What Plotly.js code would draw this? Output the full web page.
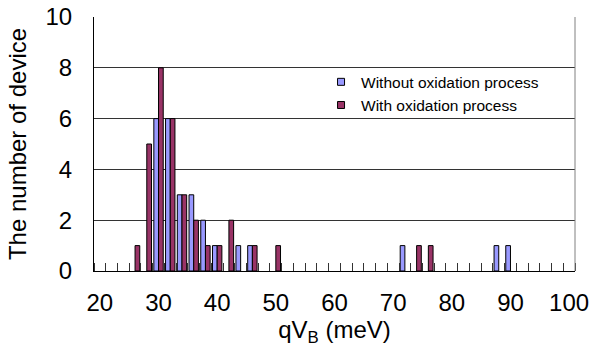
<!DOCTYPE html>
<html>
<head>
<meta charset="utf-8">
<script src="https://cdn.plot.ly/plotly-3.0.1.min.js"></script>
<style>html,body{margin:0;padding:0;background:#fff;}#chart{width:602px;height:352px;}</style>
</head>
<body>
<div id="chart"></div>
<script>
// qV_B bins (meV) and device counts
const binsWithout = [30, 32, 34, 36, 38, 40, 44, 46, 72, 88, 90];
const countsWithout = [6, 6, 3, 3, 2, 1, 1, 1, 1, 1, 1];
const binsWith = [26, 28, 30, 32, 34, 36, 38, 40, 42, 46, 50, 74, 76];
const countsWith = [1, 5, 8, 6, 3, 2, 1, 1, 2, 1, 1, 1, 1];
const xTickLabels = [20, 30, 40, 50, 60, 70, 80, 90, 100];
const yTickLabels = [0, 2, 4, 6, 8, 10];
const seriesNames = ["Without oxidation process", "With oxidation process"];

const FONT = "Arial, 'Liberation Sans', sans-serif";
const blue = "#9999FF", purple = "#993366";

const traces = [
  {type: "bar", x: binsWithout, y: countsWithout, name: seriesNames[0], showlegend: false,
   marker: {color: blue, line: {color: "#000", width: 1}}},
  {type: "bar", x: binsWith, y: countsWith, name: seriesNames[1], showlegend: false,
   marker: {color: purple, line: {color: "#000", width: 1}}},
  {type: "scatter", mode: "markers", x: [null], y: [null], name: seriesNames[0],
   marker: {symbol: "square", size: 7, color: blue, line: {color: "#000", width: 1}}},
  {type: "scatter", mode: "markers", x: [null], y: [null], name: seriesNames[1],
   marker: {symbol: "square", size: 7, color: purple, line: {color: "#000", width: 1}}}
];

const layout = {
  width: 602, height: 352,
  margin: {l: 94, r: 27, t: 17, b: 81},
  paper_bgcolor: "#fff", plot_bgcolor: "#fff",
  font: {family: FONT, color: "#000", size: 24},
  barmode: "group", bargap: 0.2, bargroupgap: 0,
  showlegend: true,
  legend: {x: 0.472, y: 0.81, xanchor: "left", yanchor: "top", font: {size: 15.5, family: FONT},
           bgcolor: "rgba(0,0,0,0)", borderwidth: 0, tracegroupgap: 0},
  xaxis: {
    range: [19, 101], tickmode: "array", tickvals: xTickLabels, ticktext: xTickLabels.map(String),
    ticks: "", showgrid: false, zeroline: false, showline: true, linecolor: "#000", linewidth: 1,
    ticklabelstandoff: 10, tickfont: {size: 24},
    minor: {ticks: "inside", tick0: 19, dtick: 2, ticklen: 8, tickcolor: "#333", tickwidth: 1, showgrid: false},
    title: {text: "qV<sub>B</sub> (meV)", font: {size: 24}, standoff: 6}
  },
  yaxis: {
    range: [0, 10], tickmode: "array", tickvals: yTickLabels, ticks: "",
    showgrid: true, gridcolor: "#333", gridwidth: 1, zeroline: false,
    showline: true, linecolor: "#000", linewidth: 1, ticklabelstandoff: 16, tickfont: {size: 24},
    title: {text: "The number of device", font: {size: 24}, standoff: 12}
  },
  shapes: [{type: "line", xref: "paper", yref: "paper", x0: 1, x1: 1, y0: 0, y1: 1,
            line: {color: "#808080", width: 1}}]
};

Plotly.newPlot("chart", traces, layout, {staticPlot: true, displayModeBar: false});
</script>
</body>
</html>
